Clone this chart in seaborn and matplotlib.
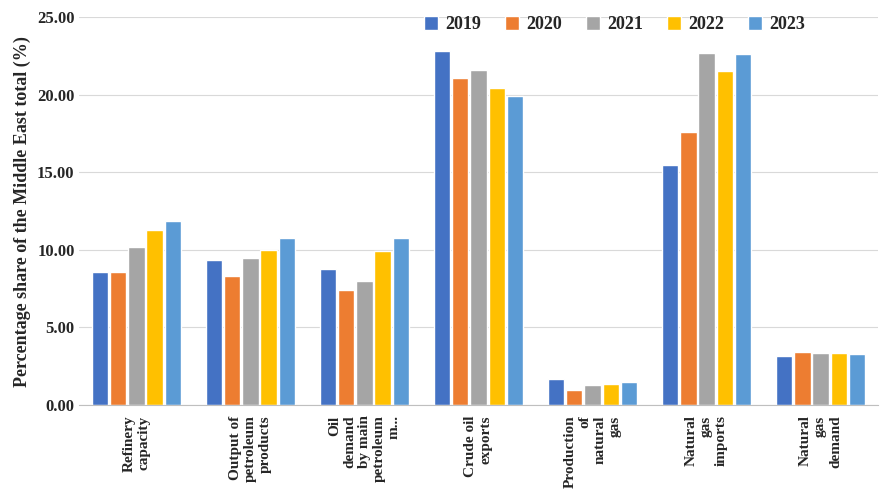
import pandas as pd
import matplotlib
matplotlib.use("Agg")
import matplotlib.pyplot as plt
import seaborn as sns

categorias = ["Refinery\ncapacity", "Output of\npetroleum\nproducts",
              "Oil\ndemand\nby main\npetroleum\nm...", "Crude oil\nexports",
              "Production\nof\nnatural\ngas", "Natural\ngas\nimports",
              "Natural\ngas\ndemand"]
anos = ["2019", "2020", "2021", "2022", "2023"]
valores = {
    "2019": [8.6, 9.35, 8.8, 22.8, 1.65, 15.5, 3.15],
    "2020": [8.55, 8.3, 7.4, 21.05, 1.0, 17.6, 3.4],
    "2021": [10.2, 9.5, 8.0, 21.6, 1.3, 22.7, 3.35],
    "2022": [11.3, 10.0, 9.95, 20.45, 1.35, 21.5, 3.35],
    "2023": [11.85, 10.8, 10.8, 19.95, 1.5, 22.6, 3.3],
}
cores = ["#4472C4", "#ED7D31", "#A5A5A5", "#FFC000", "#5B9BD5"]

linhas = []
for ano in anos:
    for cat, v in zip(categorias, valores[ano]):
        linhas.append({"cat": cat, "ano": ano, "v": v})
df = pd.DataFrame(linhas)

sns.set_style("white")
plt.rcParams["font.family"] = ["Liberation Serif", "DejaVu Serif"]
plt.rcParams["font.weight"] = "bold"

fig, ax = plt.subplots(figsize=(8.82, 4.91), dpi=100)
sns.barplot(data=df, x="cat", y="v", hue="ano", palette=cores, ax=ax,
            width=0.8, gap=0.1, saturation=1)
ax.set_ylim(0, 25)
ax.set_yticks([0, 5, 10, 15, 20, 25])
ax.set_yticklabels([f"{t:.2f}" for t in ax.get_yticks()], fontsize=12, fontweight="bold")
ax.set_xticks(range(len(categorias)))
ax.set_xticklabels(categorias, rotation=90, fontsize=11, fontweight="bold",
                   va="top", ha="center", multialignment="right")
ax.yaxis.grid(True, color="#D9D9D9", lw=0.8)
ax.set_axisbelow(True)
ax.set_xlabel("")
ax.set_ylabel("Percentage share of the Middle East total (%)", fontsize=13, fontweight="bold")
for s in ["top", "right", "left"]:
    ax.spines[s].set_visible(False)
ax.spines["bottom"].set_color("#BFBFBF")
ax.tick_params(axis="x", length=4, color="#BFBFBF")
ax.tick_params(axis="y", length=0)
ax.legend(loc="upper right", ncol=5, frameon=False, bbox_to_anchor=(0.93, 1.045),
          prop={"weight": "bold", "size": 13}, handlelength=0.8, handleheight=0.8,
          columnspacing=1.3, handletextpad=0.4)
plt.subplots_adjust(left=0.09, right=0.995, top=0.965, bottom=0.175)
fig.savefig("out.png", dpi=100)
